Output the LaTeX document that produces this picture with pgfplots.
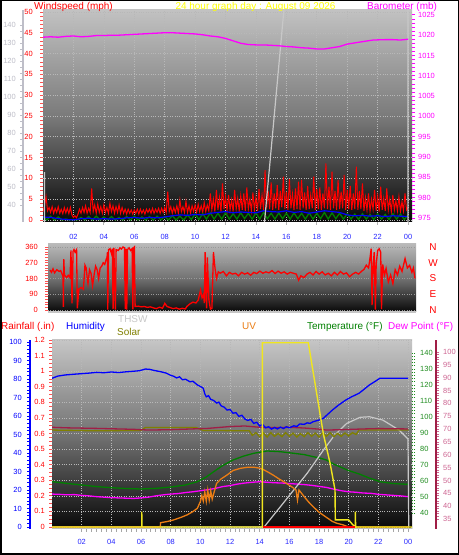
\documentclass[border=0pt]{standalone}
\usepackage{pgfplots}
\pgfplotsset{compat=1.18}
\usepackage{fontspec}
\setmainfont{Liberation Sans}
\definecolor{cRed}{RGB}{255,0,0}
\definecolor{cTickRed}{RGB}{255,80,80}
\definecolor{cMag}{RGB}{255,0,255}
\definecolor{cBlue}{RGB}{0,0,255}
\definecolor{cGreen}{RGB}{0,128,0}
\definecolor{cGreenLab}{RGB}{30,140,30}
\definecolor{cYel}{RGB}{240,230,30}
\definecolor{cTitleY}{RGB}{255,255,0}
\definecolor{cOrange}{RGB}{235,125,20}
\definecolor{cOlive}{RGB}{128,128,0}
\definecolor{cMaroon}{RGB}{160,30,70}
\definecolor{cPink}{RGB}{205,100,145}
\definecolor{cTHSW}{RGB}{200,200,200}
\definecolor{cXlab}{RGB}{40,40,255}
\definecolor{cLG}{RGB}{190,190,200}
\pgfplotsset{
  wx/.style={scale only axis, anchor=south west, tick align=outside,
    /pgf/number format/assume math mode=true,
    /pgf/number format/1000 sep={},
    tick label style={font=\fontsize{7.5}{9}\selectfont, inner sep=0pt},
    major tick length=3bp, minor tick length=3bp},
  topbox/.style={wx, at={(43bp,333bp)}, width=369bp, height=212bp, xmin=0, xmax=24.26},
  botbox/.style={wx, at={(52bp,26bp)}, width=360bp, height=189bp, xmin=0, xmax=24.27},
  midbox/.style={wx, at={(48bp,243bp)}, width=368bp, height=68bp, xmin=-0.13, xmax=24.07, ymin=-11.4, ymax=377},
}
\begin{document}
\begin{tikzpicture}[x=1bp,y=1bp]
\useasboundingbox (0,0) rectangle (459,555);
\fill[white] (0,0) rectangle (459,555);

% ---------------- TOP PANEL ----------------
\begin{axis}[topbox, ymin=-0.5, ymax=50.5,
  axis background/.style={shade, top color=gray!48, bottom color=black!97, middle color=black!52},
  axis line style={draw=none}, tick pos=left,
  xtick={2,4,...,24}, xticklabels={02,04,06,08,10,12,14,16,18,20,22,00},
  ytick={0,5,...,50}, minor y tick num=4,
  y tick style={cTickRed, line width=0.8bp},
  x tick style={gray!60, line width=0.8bp},
  yticklabel style={text=cRed, anchor=east, xshift=-7bp},
  xticklabel style={text=cXlab, anchor=north, yshift=-9.5bp},
  grid=major, grid style={dotted, white!72!black, line width=0.6bp}]
% wind gust
\addplot[cRed, line width=1.0bp] coordinates {
(0.0,2.0)(0.1,3.4)(0.2,5.6)(0.3,2.2)(0.4,3.0)(0.5,1.8)(0.6,3.2)(0.7,1.6)(0.8,2.8)(0.9,1.8)
(1.0,3.2)(1.1,1.6)(1.2,2.6)(1.3,1.5)(1.4,3.0)(1.5,1.7)(1.6,2.8)(1.7,1.5)(1.8,3.0)(1.9,1.2)
(2.0,0.6)(2.1,1.0)(2.2,0.5)(2.3,1.4)(2.4,2.6)(2.5,1.6)(2.6,3.0)(2.7,1.8)(2.8,3.4)(2.9,1.6)
(3.0,2.8)(3.1,1.8)(3.2,7.6)(3.3,2.0)(3.4,3.6)(3.5,1.6)(3.6,3.8)(3.7,1.8)(3.8,3.2)(3.9,1.6)
(4.0,3.6)(4.1,1.8)(4.2,3.0)(4.3,1.6)(4.4,4.0)(4.5,2.0)(4.6,3.4)(4.7,1.6)(4.8,3.2)(4.9,1.8)
(5.0,3.6)(5.1,1.6)(5.2,3.0)(5.3,1.6)(5.4,2.6)(5.5,1.4)(5.6,2.6)(5.7,1.6)(5.8,2.4)(5.9,1.4)
(6.0,2.4)(6.1,1.6)(6.2,2.6)(6.3,1.4)(6.4,2.6)(6.5,1.6)(6.6,2.4)(6.7,1.4)(6.8,2.6)(6.9,1.8)
(7.0,2.6)(7.1,1.6)(7.2,2.8)(7.3,1.6)(7.4,2.6)(7.5,1.8)(7.6,2.8)(7.7,1.6)(7.8,2.8)(7.9,1.8)
(8.0,3.0)(8.1,1.8)(8.2,6.8)(8.3,2.0)(8.4,3.2)(8.5,1.6)(8.6,3.0)(8.7,1.8)(8.8,3.4)(8.9,1.6)
(9.0,4.8)(9.1,2.0)(9.2,3.2)(9.3,1.8)(9.4,4.5)(9.5,1.8)(9.6,3.4)(9.7,1.6)(9.8,3.4)(9.9,2.0)
(10.0,3.6)(10.1,1.8)(10.2,3.8)(10.3,2.0)(10.4,3.4)(10.5,1.8)(10.6,4.2)(10.7,2.0)(10.8,3.6)(10.9,2.2)
(11.0,6.4)(11.1,2.4)(11.2,5.0)(11.3,2.0)(11.4,7.2)(11.5,2.4)(11.6,5.4)(11.7,2.0)(11.8,8.8)(11.9,2.6)
(12.0,5.6)(12.1,2.2)(12.2,6.0)(12.3,2.4)(12.4,4.8)(12.5,2.0)(12.6,7.2)(12.7,2.6)(12.8,5.2)(12.9,2.2)
(13.0,5.8)(13.1,2.4)(13.2,6.4)(13.3,2.2)(13.4,7.8)(13.5,2.6)(13.6,5.0)(13.7,2.2)(13.8,6.6)(13.9,2.4)
(14.0,5.4)(14.1,2.2)(14.2,7.4)(14.3,2.6)(14.4,6.0)(14.5,2.4)(14.6,12.0)(14.7,2.8)(14.8,7.0)(14.9,2.6)
(15.0,9.0)(15.1,2.4)(15.2,6.4)(15.3,2.8)(15.4,8.4)(15.5,2.4)(15.6,7.0)(15.7,3.0)(15.8,10.4)(15.9,2.6)
(16.0,6.8)(16.1,2.4)(16.2,9.8)(16.3,2.8)(16.4,6.2)(16.5,2.4)(16.6,7.6)(16.7,2.6)(16.8,9.2)(16.9,2.4)
(17.0,9.6)(17.1,2.8)(17.2,6.6)(17.3,2.4)(17.4,8.2)(17.5,2.6)(17.6,6.0)(17.7,2.8)(17.8,10.4)(17.9,2.4)
(18.0,7.4)(18.1,2.6)(18.2,7.8)(18.3,2.4)(18.4,6.4)(18.5,2.8)(18.6,13.6)(18.7,2.6)(18.8,8.0)(18.9,2.4)
(19.0,11.6)(19.1,2.8)(19.2,7.0)(19.3,2.4)(19.4,9.6)(19.5,2.6)(19.6,6.8)(19.7,2.8)(19.8,10.8)(19.9,2.4)
(20.0,7.2)(20.1,2.6)(20.2,8.2)(20.3,2.4)(20.4,6.4)(20.5,2.6)(20.6,12.8)(20.7,2.4)(20.8,7.0)(20.9,2.6)
(21.0,8.8)(21.1,2.2)(21.2,5.4)(21.3,2.4)(21.4,6.4)(21.5,2.2)(21.6,5.0)(21.7,2.6)(21.8,7.2)(21.9,2.2)
(22.0,5.6)(22.1,2.0)(22.2,8.0)(22.3,2.4)(22.4,5.2)(22.5,2.2)(22.6,7.6)(22.7,2.4)(22.8,5.0)(22.9,2.0)
(23.0,6.0)(23.1,2.4)(23.2,4.6)(23.3,2.2)(23.4,5.6)(23.5,2.0)(23.6,4.4)(23.7,2.2)(23.8,6.4)(23.9,2.4)
(24.0,3.0)};
% 10-min wind
\addplot[cGreen, line width=1.3bp] coordinates {
(0,0.8)(0.25,0)(0.5,0.9)(0.75,0)(1,0.7)(1.25,0)(1.5,0.2)(1.75,0)(2,0.1)(2.25,0)(2.5,0.6)(2.75,0)(3,0.8)(3.25,0)(3.5,0.9)(3.75,0)(4,0.7)(4.25,0)(4.5,0.8)(4.75,0)(5,0.6)(5.25,0)(5.5,0.8)(5.75,0)(6,0.9)(6.25,0)(6.5,0.7)(6.75,0)(7,0.8)(7.25,0)(7.5,0.9)(7.75,0)(8,0.8)(8.25,0)(8.5,1.0)(8.75,0)(9,0.9)(9.25,0)(9.5,1.2)(9.75,0.1)(10,1.4)(10.25,0.1)(10.5,1.5)(10.75,0.2)(11,1.7)(11.25,0.2)(11.5,1.6)(11.75,0.2)(12,1.7)(12.25,0.2)(12.5,1.5)(12.75,0.2)(13,1.7)(13.25,0.3)(13.5,1.6)(13.75,0.2)(14,1.7)(14.25,0.2)(14.5,1.8)(14.75,0.3)(15,1.6)(15.25,0.2)(15.5,1.7)(15.75,0.3)(16,1.6)(16.25,0.2)(16.5,1.7)(16.75,0.3)(17,1.6)(17.25,0.2)(17.5,1.7)(17.75,0.2)(18,1.6)(18.25,0.3)(18.5,1.8)(18.75,0.2)(19,1.7)(19.25,0.3)(19.5,1.6)(19.75,0.2)(20,1.5)(20.25,0.2)(20.5,1.4)(20.75,0.1)(21,1.5)(21.25,0.2)(21.5,1.3)(21.75,0.1)(22,1.4)(22.25,0.2)(22.5,1.3)(22.75,0.1)(23,1.5)(23.25,0.2)(23.5,1.4)(23.75,0.1)(24,1.2)};
% average wind
\addplot[cBlue, line width=1.2bp] coordinates {
(0,0.7)(0.5,0.6)(1,0.3)(1.5,0.1)(2,0.0)(2.5,0.3)(3,0.4)(3.5,0.2)(4,0.3)(4.5,0.2)(5,0.3)(5.5,0.5)(6,0.6)(6.5,0.4)(7,0.6)(7.5,0.5)(8,0.7)(8.5,1.0)(9,1.2)(9.5,1.1)(10,1.3)(10.5,1.2)(11,1.6)(11.5,1.8)(12,2.0)(12.5,1.7)(13,1.9)(13.5,1.8)(14,1.7)(14.5,2.2)(15,2.0)(15.5,1.9)(16,2.2)(16.5,1.8)(17,2.0)(17.5,1.6)(18,1.9)(18.5,2.2)(19,2.0)(19.5,1.8)(20,1.2)(20.5,1.0)(21,1.1)(21.5,0.9)(22,1.0)(22.5,0.8)(23,1.0)(23.5,0.9)(24,0.8)};
% light grey series
\addplot[cTHSW, line width=1.2bp] coordinates {
(0.1,11.5)(0.1,-2)(14.55,-1)(15.85,51)(24,51)(24,-2)};
\end{axis}

% far-left grey scale
\begin{axis}[wx, at={(23bp,333bp)}, width=1bp, height=212bp, xmin=0, xmax=1,
  ymin=30.6, ymax=148.3, axis x line=none, axis y line*=left,
  axis line style={draw=cLG, line width=2bp},
  ytick={40,50,...,140}, minor y tick num=2,
  y tick style={cLG, line width=0.8bp},
  yticklabel style={text=cLG, anchor=east, xshift=-4bp}]
\end{axis}

% barometer
\begin{axis}[topbox, ymin=974.0, ymax=1026.2,
  axis x line=none, axis y line*=right, axis line style={draw=none},
  ytick={975,980,...,1025}, minor y tick num=4,
  y tick style={cMag, line width=0.8bp},
  yticklabel style={text=cMag, anchor=west, xshift=3bp}]
\addplot[cMag, line width=1.3bp] coordinates {
(0,1019.5)(0.5,1019.6)(1,1019.5)(1.5,1019.7)(2,1019.8)(2.5,1019.6)(3,1019.7)(3.5,1019.9)(4,1019.9)(4.5,1020.0)(5,1020.0)(5.5,1020.1)(6,1020.2)(6.5,1020.3)(7,1020.4)(7.5,1020.5)(8,1020.6)(8.5,1020.6)(9,1020.5)(9.5,1020.4)(10,1020.3)(10.5,1020.1)(11,1019.8)(11.5,1019.6)(12,1019.2)(12.5,1018.6)(13,1018.0)(13.5,1017.7)(14,1017.6)(14.5,1017.6)(15,1017.5)(15.5,1017.4)(16,1017.2)(16.5,1017.1)(17,1016.9)(17.5,1016.8)(18,1016.6)(18.5,1016.6)(19,1016.9)(19.5,1017.2)(20,1017.8)(20.5,1018.1)(21,1018.4)(21.7,1018.8)(22.5,1018.9)(23,1018.9)(23.5,1018.8)(24,1019.0)};
\end{axis}

% ---------------- MIDDLE PANEL ----------------
\begin{axis}[midbox,
  axis background/.style={shade, top color=gray!55, bottom color=black!97, middle color=black!55},
  axis x line*=bottom, axis y line*=left,
  x axis line style={draw=gray!45, line width=1.5bp}, y axis line style={draw=none},
  xtick=\empty,
  ytick={0,90,...,360}, minor y tick num=5,
  y tick style={cTickRed, line width=0.8bp},
  yticklabel style={text=cRed, anchor=east, xshift=-7bp},
  ymajorgrids, grid style={dotted, white!60!black, line width=0.6bp}]
\addplot[cRed, line width=1.3bp] coordinates {
(0,228)(0.1,215)(0.2,235)(0.3,212)(0.45,230)(0.6,220)(0.7,225)(0.8,205)(0.86,190)(0.88,18)(0.91,290)(0.95,200)(1.1,185)(1.2,198)(1.32,185)(1.38,341)(1.45,38)(1.52,335)(1.58,345)(1.65,330)(1.75,345)(1.8,10)(1.9,120)(2.05,128)(2.2,118)(2.3,256)(2.38,240)(2.45,180)(2.5,150)(2.6,230)(2.7,210)(2.8,140)(2.9,200)(3.0,250)(3.1,230)(3.2,180)(3.3,240)(3.4,250)(3.5,270)(3.6,260)(3.7,290)(3.75,300)(3.78,330)(3.8,2)(3.85,345)(3.95,350)(4.05,320)(4.1,350)(4.15,5)(4.2,355)(4.3,2)(4.35,345)(4.5,340)(4.6,355)(4.7,348)(4.8,360)(4.9,355)(4.95,5)(5.0,350)(5.05,2)(5.1,345)(5.2,355)(5.3,340)(5.4,350)(5.45,4)(5.5,355)(5.55,360)(5.6,20)(5.8,22)(6.0,18)(6.2,20)(6.4,15)(6.6,18)(6.8,12)(7.0,8)(7.2,16)(7.4,10)(7.55,38)(7.7,20)(7.9,14)(8.1,8)(8.3,12)(8.5,5)(8.7,10)(8.9,6)(9.0,20)(9.2,35)(9.4,45)(9.6,40)(9.75,57)(9.9,114)(10.0,70)(10.1,90)(10.15,40)(10.2,331)(10.25,150)(10.3,10)(10.35,300)(10.45,60)(10.55,5)(10.65,10)(10.75,331)(10.85,240)(10.95,180)(11.07,218)(11.2,210)(11.4,220)(11.6,195)(11.8,215)(12.0,205)(12.2,210)(12.4,195)(12.6,215)(12.8,205)(13.0,212)(13.2,198)(13.4,215)(13.6,208)(13.8,222)(14.0,210)(14.2,218)(14.4,212)(14.6,225)(14.8,208)(15.0,222)(15.2,210)(15.4,218)(15.6,205)(15.8,215)(16.0,210)(16.2,205)(16.35,170)(16.5,195)(16.7,185)(16.9,205)(17.1,215)(17.3,200)(17.5,220)(17.7,205)(17.9,218)(18.1,200)(18.3,210)(18.5,195)(18.7,215)(18.9,200)(19.1,220)(19.3,205)(19.5,212)(19.7,190)(19.9,205)(20.1,215)(20.3,205)(20.5,222)(20.65,232)(20.8,256)(20.95,240)(21.05,300)(21.12,350)(21.18,28)(21.25,250)(21.32,330)(21.4,2)(21.45,260)(21.55,340)(21.65,350)(21.75,330)(21.8,5)(21.88,260)(22.0,200)(22.1,237)(22.25,160)(22.4,200)(22.55,150)(22.7,230)(22.85,200)(23.0,250)(23.15,220)(23.35,294)(23.5,240)(23.65,255)(23.8,215)(23.9,240)(24.0,180)};
\end{axis}
\begin{axis}[midbox, axis x line=none, axis y line*=right, axis line style={draw=none},
  ytick={0,90,...,360}, yticklabels={N,E,S,W,N}, major tick length=0pt,
  yticklabel style={text=cRed, anchor=center, xshift=17bp, font=\fontsize{10}{12}\selectfont}]
\end{axis}

% ---------------- BOTTOM PANEL ----------------
% background, grid, rainfall scale
\begin{axis}[botbox, ymin=-0.0128, ymax=1.2,
  axis background/.style={shade, top color=gray!45, bottom color=black!97, middle color=black!55},
  axis x line*=bottom, axis y line*=left,
  x axis line style={draw=gray!50, line width=1bp}, y axis line style={draw=none},
  xtick={2,4,...,24}, xticklabels={02,04,06,08,10,12,14,16,18,20,22,00}, minor x tick num=5,
  x tick style={gray!70, line width=0.8bp},
  ytick={0,0.1,0.2,0.3,0.4,0.5,0.6,0.7,0.8,0.9,1,1.1,1.2},
  yticklabels={0,0.1,0.2,0.3,0.4,0.5,0.6,0.7,0.8,0.9,1,1.1,1.2},
  minor y tick num=3,
  y tick style={cTickRed, line width=0.8bp},
  yticklabel style={text=cRed, anchor=east, xshift=-4bp},
  xticklabel style={text=cXlab, anchor=north, yshift=-7bp},
  grid=major, grid style={dotted, white!72!black, line width=0.6bp}]
\end{axis}
% humidity scale
\begin{axis}[wx, at={(30bp,26bp)}, width=1bp, height=189bp, xmin=0, xmax=1,
  ymin=-1.1, ymax=101.1, axis x line=none, axis y line*=left,
  axis line style={draw=cBlue, line width=2bp},
  ytick={0,10,...,100}, minor y tick num=4,
  y tick style={cBlue, line width=0.8bp},
  yticklabel style={text=cBlue, anchor=east, xshift=-5bp}]
\end{axis}
% dew point scale
\begin{axis}[wx, at={(435bp,26bp)}, width=1bp, height=189bp, xmin=0, xmax=1,
  ymin=31.1, ymax=104.7, axis x line=none, axis y line*=right,
  axis line style={draw=cMaroon, line width=1.8bp},
  ytick={35,40,...,100}, minor y tick num=4,
  y tick style={cPink, line width=0.8bp},
  yticklabel style={text=cPink, anchor=west, xshift=4bp}]
\end{axis}
% temperature (green scale)
\begin{axis}[botbox, ymin=30, ymax=148.1,
  axis x line=none, axis y line*=right, axis line style={draw=none},
  ytick={40,50,...,140}, minor y tick num=4,
  y tick style={cGreenLab, line width=0.8bp, densely dotted},
  yticklabel style={text=cGreenLab, anchor=west, xshift=5bp}]
\addplot[cGreen, line width=1.3bp] coordinates {
(0,59.6)(1,58.5)(2,57.5)(3,56.5)(4,55.8)(5,55.3)(6,55.0)(7,55.4)(8,56.2)(9,57.5)(9.8,59.6)(10.4,62.5)(10.9,65.8)(11.5,69.6)(12.2,73.1)(12.9,75.5)(13.6,77.3)(14.5,78.75)(15.4,78.3)(16.3,77.3)(17.0,76.5)(17.6,75.2)(18.0,74.5)(18.5,73.1)(19.0,70.5)(19.4,68.9)(20.0,66.5)(20.7,64.4)(21.4,61.8)(22.1,59.6)(23,58.4)(24,57.9)};
\end{axis}
% dew point line
\begin{axis}[botbox, ymin=31.1, ymax=104.7, hide axis]
\addplot[cMag, line width=1.3bp] coordinates {
(0,44.7)(0.5,44.6)(1,44.4)(1.5,44.5)(2,44.2)(2.5,44.0)(3,43.7)(3.5,43.5)(4,43.3)(4.5,43.2)(5,43.1)(5.5,43.0)(6,43.2)(6.5,43.5)(7,44.0)(7.5,44.4)(8,44.7)(8.5,44.9)(9,45.3)(9.5,45.6)(10,46.0)(10.5,46.4)(11,46.9)(11.5,47.6)(12,48.0)(12.5,48.6)(13,49.0)(13.5,49.3)(14,49.5)(14.5,49.3)(15,49.1)(15.5,49.0)(16,48.8)(16.5,48.6)(17,48.4)(17.5,48.1)(18,47.7)(18.5,47.3)(19,46.6)(19.5,46.0)(20,45.6)(20.5,45.4)(21,45.1)(21.5,45.0)(22,44.6)(22.5,44.4)(23,44.2)(23.5,44.0)(24,43.7)};
\end{axis}
% remaining series (humidity scale)
\begin{axis}[botbox, ymin=-1.1, ymax=101.1, hide axis]
\addplot[cTHSW, line width=1.2bp] coordinates {
(0,0)(14.3,0)(16.3,20)(17.2,29)(18.3,41.6)(18.97,48.8)(19.4,52.4)(19.87,56)(20.77,59.3)(21.4,59.6)(22.3,57.8)(23.4,52.4)(24.0,47.5)(24.05,0)};
\addplot[cOlive, line width=1.3bp] coordinates {
(0,52.4)(3,52.0)(6.0,52.2)(6.3,53.8)(9.7,53.8)(10.2,52.2)(13.3,52)(13.5,49.5)(13.75,51)(14,48.8)(14.25,50.8)(14.5,48.6)(14.75,51)(15,49)(15.25,50.6)(15.5,48.8)(15.75,51)(16,49)(16.25,50.8)(16.5,48.6)(16.75,50.5)(17,48.8)(17.25,51)(17.5,49)(17.75,50.8)(18,48.7)(18.25,50.8)(18.5,49)(18.75,51)(19,48.8)(19.25,50.6)(19.5,49)(19.75,50.8)(20,49.2)(20.25,51)(20.5,50)(20.7,52.4)(24.05,52.4)};
\addplot[cMaroon, line width=1.3bp] coordinates {
(0,53.9)(1,53.6)(3,53.3)(5.5,52.8)(6.5,52.4)(8,52.6)(10.5,53.3)(12,54.3)(13,54.6)(14,53.9)(15,53.7)(16,53.9)(17,53.5)(18,52.9)(18.5,52.4)(19.5,52.6)(21,53.0)(22,53.2)(24,53.0)};
\addplot[cBlue, line width=1.3bp] coordinates {
(0,80.4)(0.4,81.6)(0.9,82.2)(1.5,82.6)(2.0,82.9)(2.5,83.2)(3.0,83.6)(3.5,83.4)(4.0,83.8)(4.5,83.5)(5.0,83.9)(5.5,84.2)(5.9,84.5)(6.3,85.4)(6.6,85.2)(6.9,84.6)(7.3,84.0)(7.7,83.2)(8.0,82.0)(8.2,81.5)(8.4,80.6)(8.6,81.2)(8.8,79.6)(9.0,79.9)(9.3,78.5)(9.5,78.8)(9.8,76.8)(10.0,76.0)(10.2,75)(10.3,72)(10.4,70.4)(10.55,71)(10.7,69)(10.9,68.4)(11.1,67)(11.25,67.5)(11.4,65.5)(11.6,64.8)(11.8,63.2)(12.0,63.5)(12.2,61.5)(12.4,61.8)(12.6,59.8)(12.8,60.4)(13.0,58.4)(13.2,57.6)(13.4,58.2)(13.6,56)(13.8,56.6)(14.0,54.6)(14.2,55.4)(14.4,53.6)(14.6,54.2)(14.8,52.9)(15.0,53.8)(15.2,53.0)(15.4,54.0)(15.6,53.2)(15.8,54.2)(16.0,53.6)(16.3,54.7)(16.5,54.3)(16.7,55.7)(17.0,55.5)(17.2,56.3)(17.4,56.0)(17.6,56.9)(18.0,57.8)(18.3,58.8)(18.6,61)(18.9,63.2)(19.3,65.8)(19.8,68.6)(20.2,70.4)(20.7,72.3)(21.0,74.2)(21.4,76.8)(21.8,78.8)(22.1,80.4)(24,80.4)};
\addplot[cOrange, line width=1.3bp] coordinates {
(0,0)(7.3,0)(7.32,2.3)(7.8,3)(8.2,3.8)(8.7,5.2)(9.1,6.5)(9.5,8.3)(9.8,10.1)(10.0,13.7)(10.1,17)(10.2,14)(10.3,19)(10.4,13.9)(10.5,20)(10.6,14.5)(10.7,19.5)(10.8,15)(10.9,18)(11.1,23.6)(11.4,26)(11.8,28.1)(12.2,30.5)(12.7,31.7)(13.2,32.3)(13.6,32.3)(14.0,31.8)(14.3,30.8)(14.6,29.5)(14.9,28.1)(15.3,26)(15.8,23.6)(16.2,21.5)(16.45,20)(16.55,14.5)(16.65,20)(17.0,16.4)(17.3,13.5)(17.6,11)(18.0,8)(18.5,5.2)(18.9,3)(19.2,2)(19.6,1.2)(20.0,0)(24.05,0)};
\addplot[cYel, line width=1.4bp] coordinates {
(0,0)(6.05,0)(6.05,8.3)(6.07,0)(14.18,0)(14.18,99.6)(17.28,99.6)(18.3,50)(18.75,34.4)(19.08,20)(19.1,3.8)(20.0,3.8)(20.3,1)(20.45,0)(20.45,8.3)(20.47,0)(24.27,0)};
\addplot[cRed, line width=1.4bp] coordinates {(14.2,0)(20.45,0)};
\end{axis}

% ---------------- TEXTS ----------------
\node[anchor=base west, inner sep=0, text=cRed, font=\fontsize{10}{12}\selectfont] at (34,545.5) {Windspeed (mph)};
\node[anchor=base, inner sep=0, text=cTitleY, font=\fontsize{10}{12}\selectfont] at (255.5,545.5) {24 hour graph day : August 09 2026};
\node[anchor=base west, inner sep=0, text=cMag, font=\fontsize{10}{12}\selectfont] at (367,545.5) {Barometer (mb)};

\node[anchor=base west, inner sep=0, text=cRed, font=\fontsize{10}{12}\selectfont] at (1,225.5) {Rainfall (.in)};
\node[anchor=base west, inner sep=0, text=cBlue, font=\fontsize{10}{12}\selectfont] at (66,225.5) {Humidity};
\node[anchor=base west, inner sep=0, text=cTHSW, font=\fontsize{10}{12}\selectfont] at (118,232.8) {THSW};
\node[anchor=base west, inner sep=0, text=cOlive, font=\fontsize{10}{12}\selectfont] at (117,219.5) {Solar};
\node[anchor=base west, inner sep=0, text=cOrange, font=\fontsize{10}{12}\selectfont] at (242,225.5) {UV};
\node[anchor=base west, inner sep=0, text=cGreen, font=\fontsize{10}{12}\selectfont] at (307,225.5) {Temperature (°F)};
\node[anchor=base west, inner sep=0, text=cMag, font=\fontsize{10}{12}\selectfont] at (388,225.5) {Dew Point (°F)};

\draw[black, line width=1.5bp] (0.75,0.75) rectangle (458.25,554.25);
\end{tikzpicture}
\end{document}
